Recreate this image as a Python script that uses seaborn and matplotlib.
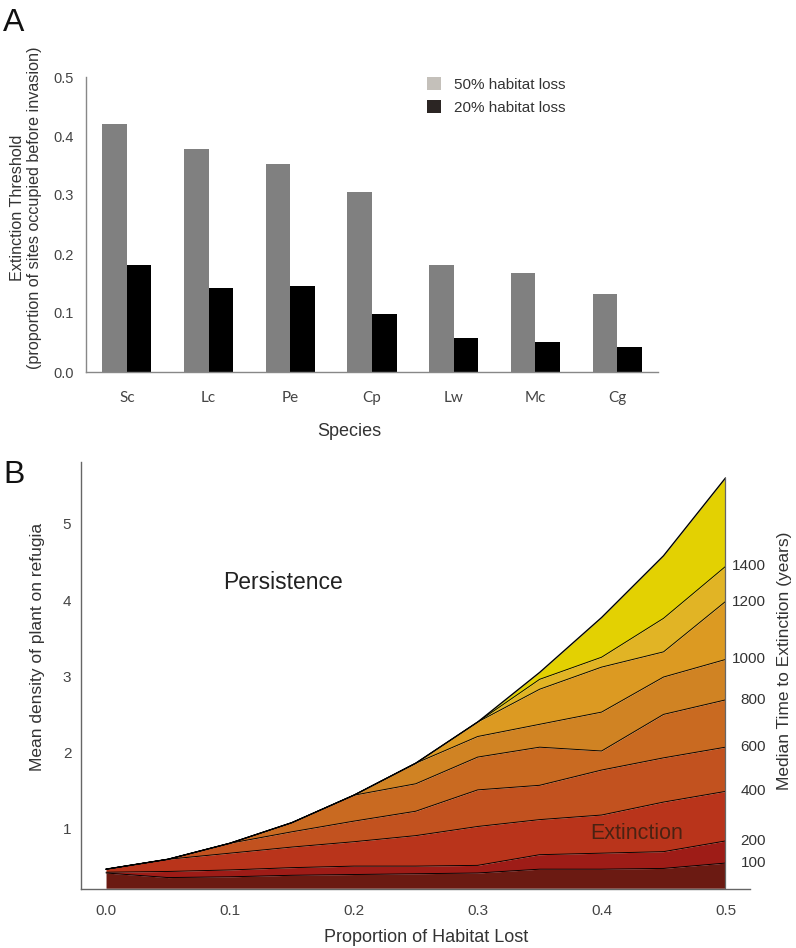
import numpy as np
import pandas as pd
import matplotlib
matplotlib.use("Agg")
import matplotlib.pyplot as plt
from matplotlib.patches import Patch
import seaborn as sns

# ---------------- Data: panel A ----------------
species = ["Sc", "Lc", "Pe", "Cp", "Lw", "Mc", "Cg"]
loss_labels = ["50% habitat loss", "20% habitat loss"]
thr_50 = [0.421, 0.378, 0.353, 0.305, 0.181, 0.167, 0.133]
thr_20 = [0.181, 0.142, 0.146, 0.098, 0.057, 0.051, 0.042]

# ---------------- Data: panel B ----------------
hab_lost = [0.0, 0.05, 0.10, 0.15, 0.20, 0.25, 0.30, 0.35, 0.40, 0.45, 0.50]
dens_floor = 0.22
line_100 = [0.42, 0.36, 0.37, 0.39, 0.40, 0.41, 0.42, 0.47, 0.47, 0.48, 0.55]
line_200 = [0.43, 0.44, 0.46, 0.49, 0.51, 0.51, 0.52, 0.66, 0.68, 0.70, 0.84]
line_400 = [0.47, 0.60, 0.68, 0.76, 0.83, 0.91, 1.03, 1.12, 1.18, 1.35, 1.49]
line_600 = [0.47, 0.60, 0.81, 0.96, 1.10, 1.23, 1.51, 1.57, 1.77, 1.93, 2.07]
line_800 = [0.47, 0.60, 0.81, 1.08, 1.44, 1.59, 1.94, 2.07, 2.02, 2.50, 2.69]
line_1000 = [0.47, 0.60, 0.81, 1.08, 1.44, 1.86, 2.21, 2.37, 2.53, 2.99, 3.22]
line_1200 = [0.47, 0.60, 0.81, 1.08, 1.44, 1.86, 2.40, 2.83, 3.12, 3.32, 3.98]
line_1400 = [0.47, 0.60, 0.81, 1.08, 1.44, 1.86, 2.40, 2.96, 3.25, 3.76, 4.44]
line_top = [0.47, 0.60, 0.81, 1.08, 1.44, 1.86, 2.40, 3.05, 3.77, 4.58, 5.60]
time_levels = ["100", "200", "400", "600", "800", "1000", "1200", "1400"]

band_colors = ["#6b1a12", "#9e1c17", "#b9341b", "#c2521f", "#c96a21",
               "#d08323", "#dc9a22", "#e1b425", "#e3d102"]

# ---------------- Style ----------------
sns.set_theme(style="white")
plt.rcParams["font.family"] = ["Liberation Sans", "DejaVu Sans"]
plt.rcParams["text.color"] = "#333333"
plt.rcParams["axes.labelcolor"] = "#333333"
plt.rcParams["xtick.color"] = "#444444"
plt.rcParams["ytick.color"] = "#444444"

fig = plt.figure(figsize=(7.96, 9.48), dpi=100)

# ================= Panel A =================
axA = fig.add_axes([86 / 796, 1 - 372 / 948, (658 - 86) / 796, (372 - 77) / 948])
df = pd.DataFrame({
    "species": species * 2,
    "loss": [loss_labels[0]] * len(species) + [loss_labels[1]] * len(species),
    "threshold": thr_50 + thr_20,
})
sns.barplot(data=df, x="species", y="threshold", hue="loss",
            hue_order=loss_labels,
            palette={loss_labels[0]: "#808080", loss_labels[1]: "#000000"},
            width=0.6, saturation=1, linewidth=0, legend=False, ax=axA)
axA.set_ylim(0, 0.5)
axA.set_xlim(-0.5, len(species) - 0.5)
axA.set_yticks(np.arange(0, 0.51, 0.1))
axA.set_yticklabels([f"{v:.1f}" for v in np.arange(0, 0.51, 0.1)], fontsize=10.5)
axA.set_xticks(np.arange(-0.5, len(species), 1.0))
axA.set_xticklabels([])
axA.set_xticks(np.arange(len(species)), minor=True)
axA.set_xticklabels(species, minor=True, fontsize=11, family=["Lato", "DejaVu Sans"])
axA.tick_params(axis="x", which="minor", length=0, pad=14)
axA.tick_params(axis="x", which="major", length=5, width=1, color="#888888", direction="out")
axA.tick_params(axis="y", length=6, width=1, color="#888888", direction="out", pad=3)
axA.set_xlabel("")
axA.set_ylabel("")
for s in ["top", "right"]:
    axA.spines[s].set_visible(False)
for s in ["left", "bottom"]:
    axA.spines[s].set_color("#888888")
    axA.spines[s].set_linewidth(1)

handles = [Patch(facecolor="#c4c0ba", edgecolor="none"),
           Patch(facecolor="#2b2523", edgecolor="none")]
axA.legend(handles, loss_labels, loc="upper left",
           bbox_to_anchor=(427 / 796, 1 - 77 / 948), bbox_transform=fig.transFigure,
           frameon=False, fontsize=11, handlelength=0.9, handleheight=0.9,
           handletextpad=0.85, labelspacing=0.55, borderpad=0, borderaxespad=0)

fig.text(349 / 796, 1 - 431 / 948, "Species", fontsize=13, ha="center", va="center")
fig.text(26 / 796, 1 - 208 / 948,
         "Extinction Threshold\n(proportion of sites occupied before invasion)",
         rotation=90, ha="center", va="center", multialignment="center",
         fontsize=11.6, linespacing=1.2)
fig.text(3 / 796, 1 - 23 / 948, "A", fontsize=23, ha="left", va="center", color="#111111")

# ================= Panel B =================
axB = fig.add_axes([81 / 796, 1 - 889 / 948, (750 - 81) / 796, (889 - 462) / 948])
x = np.array(hab_lost)
bounds = [np.full_like(x, dens_floor), line_100, line_200, line_400, line_600,
          line_800, line_1000, line_1200, line_1400, line_top]
for i in range(len(bounds) - 1):
    axB.fill_between(x, bounds[i], bounds[i + 1], color=band_colors[i], linewidth=0)
for b in bounds[1:-1]:
    sns.lineplot(x=x, y=b, color="black", linewidth=0.65, ax=axB)
sns.lineplot(x=x, y=line_top, color="black", linewidth=1.0, ax=axB)
axB.plot([x[-1], x[-1]], [dens_floor, line_top[-1]], color="#666666", linewidth=0.9)

axB.set_xlim(-0.0202, 0.5198)
axB.set_ylim(0.21, 5.81)
axB.set_xticks(np.arange(0, 0.51, 0.1))
axB.set_xticklabels([f"{v:.1f}" for v in np.arange(0, 0.51, 0.1)], fontsize=11)
axB.set_yticks([1, 2, 3, 4, 5])
axB.set_yticklabels(["1", "2", "3", "4", "5"], fontsize=11)
axB.tick_params(axis="x", length=5, width=1, color="#888888", direction="out", pad=6)
axB.tick_params(axis="y", length=5, width=1, color="#888888", direction="out", pad=2)
for s in ["top", "right"]:
    axB.spines[s].set_visible(False)
for s in ["left", "bottom"]:
    axB.spines[s].set_color("#666666")
    axB.spines[s].set_linewidth(1)

# right-hand level labels, placed at the boundary heights at 50% loss
for lab, b in zip(time_levels, bounds[1:-1]):
    axB.text(0.5327, b[-1], lab, ha="right", va="center", fontsize=11,
             color="#333333", clip_on=False)

axB.text(0.143, 4.23, "Persistence", fontsize=16.5, ha="center", va="center",
         color="#222222")
axB.text(0.4286, 0.94, "Extinction", fontsize=15.5, ha="center", va="center",
         color="#4a2212")

fig.text(426 / 796, 1 - 937 / 948, "Proportion of Habitat Lost", fontsize=13,
         ha="center", va="center")
fig.text(38 / 796, 1 - 647 / 948, "Mean density of plant on refugia", fontsize=12.5,
         rotation=90, ha="center", va="center")
fig.text(785 / 796, 1 - 661 / 948, "Median Time to Extinction (years)", fontsize=12.5,
         rotation=90, ha="center", va="center")
fig.text(3 / 796, 1 - 475 / 948, "B", fontsize=23, ha="left", va="center", color="#111111")

fig.savefig("out.png", dpi=100)
